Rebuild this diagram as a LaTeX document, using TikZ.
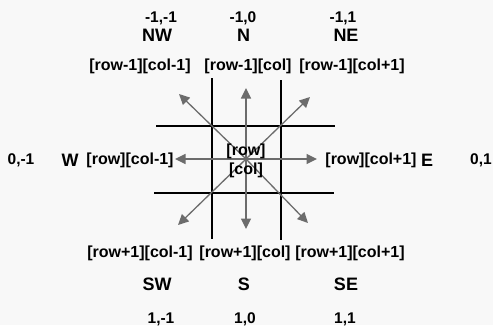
\documentclass[tikz,border=0pt]{standalone}
\usepackage{fontspec}
\setmainfont{Liberation Sans}
\usetikzlibrary{arrows.meta}
\definecolor{bgc}{HTML}{F8F8F8}
\definecolor{arrc}{HTML}{6C6C6C}
\tikzset{
  coordlbl/.style={anchor=base, inner sep=0pt, font=\fontsize{15.5}{18}\selectfont\bfseries},
  dirlbl/.style={anchor=base, inner sep=0pt, font=\fontsize{18}{21}\selectfont\bfseries},
  idxlbl/.style={anchor=base, inner sep=0pt, font=\fontsize{16}{19}\selectfont\bfseries},
  gridline/.style={black, line width=2pt},
  dirarrow/.style={arrc, line width=1.3pt, -{Triangle[length=10.5pt,width=10pt]}}
}
\begin{document}
\begin{tikzpicture}[x=1pt,y=-1pt]
\fill[bgc] (0,0) rectangle (493,325);
\useasboundingbox (0,0) rectangle (493,325);

% grid
\draw[gridline] (212,78) -- (212,239);
\draw[gridline] (280.5,80) -- (280.5,240);
\draw[gridline] (156,126) -- (335,126);
\draw[gridline] (154,193) -- (334,193);

% arrow coordinates
\coordinate (ctr) at (246,159);
\coordinate (tN) at (246,88);
\coordinate (tS) at (246,229);
\coordinate (tW) at (175,159);
\coordinate (tE) at (317,159);
\coordinate (tNW) at (179,94);
\coordinate (tNE) at (310,97);
\coordinate (tSW) at (178,225);
\coordinate (tSE) at (308,223);

\foreach \t in {tN,tS,tW,tE,tNW,tNE,tSW,tSE}
  \draw[dirarrow] (ctr) -- (\t);

% center label
\node[inner sep=0pt, align=center, font=\fontsize{16}{19}\selectfont\bfseries] (cell) at (246,161) {[row]\\{}[col]};

% top
\node[coordlbl] (cNW) at (161,22) {-1,-1};
\node[coordlbl] (cN)  at (243,22) {-1,0};
\node[coordlbl] (cNE) at (343,22) {-1,1};
\node[dirlbl] (dNW) at (157,41) {NW};
\node[dirlbl] (dN)  at (243.5,41) {N};
\node[dirlbl] (dNE) at (346,41) {NE};
\node[idxlbl] (iNW) at (140,70) {[row-1][col-1]};
\node[idxlbl] (iN)  at (248,70) {[row-1][col]};
\node[idxlbl] (iNE) at (352,70) {[row-1][col+1]};

% middle
\node[coordlbl] (cW) at (21,164) {0,-1};
\node[dirlbl] (dW) at (70,166) {W};
\node[idxlbl] (iW) at (130,164) {[row][col-1]};
\node[idxlbl] (iE) at (371,164) {[row][col+1]};
\node[dirlbl] (dE) at (427,166) {E};
\node[coordlbl] (cE) at (481,164) {0,1};

% bottom
\node[idxlbl] (iSW) at (140,257.5) {[row+1][col-1]};
\node[idxlbl] (iS)  at (245,257.5) {[row+1][col]};
\node[idxlbl] (iSE) at (350,257.5) {[row+1][col+1]};
\node[dirlbl] (dSW) at (157,290.5) {SW};
\node[dirlbl] (dS)  at (244,290.5) {S};
\node[dirlbl] (dSE) at (346,290.5) {SE};
\node[coordlbl] (cSW) at (161,323) {1,-1};
\node[coordlbl] (cS)  at (245,323) {1,0};
\node[coordlbl] (cSE) at (345,323) {1,1};
\end{tikzpicture}
\end{document}
